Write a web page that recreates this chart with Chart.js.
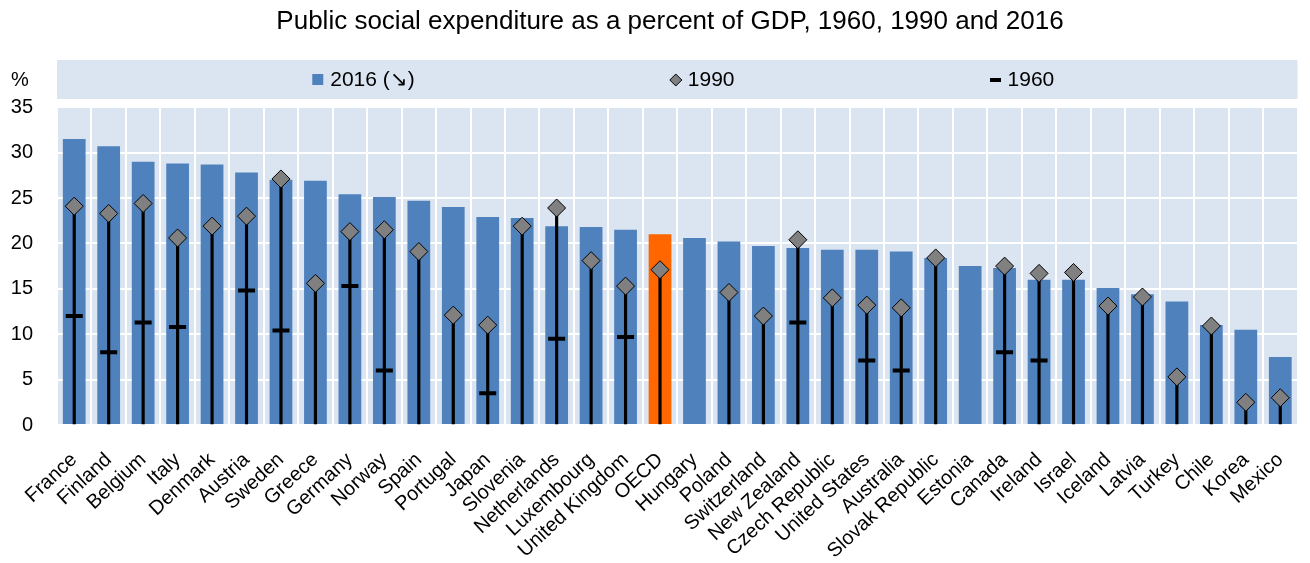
<!DOCTYPE html>
<html>
<head>
<meta charset="utf-8">
<title>Public social expenditure as a percent of GDP</title>
<script src="https://cdn.jsdelivr.net/npm/chart.js@4.4.0/dist/chart.umd.min.js"></script>
<style>
  html, body { margin: 0; padding: 0; background: #fff; }
  .chart-wrapper { position: relative; width: 1310px; height: 563px; }
</style>
</head>
<body>
<div class="chart-wrapper"><canvas id="socx"></canvas></div>
<script>
const countries = ['France', 'Finland', 'Belgium', 'Italy', 'Denmark', 'Austria', 'Sweden', 'Greece',
  'Germany', 'Norway', 'Spain', 'Portugal', 'Japan', 'Slovenia', 'Netherlands', 'Luxembourg',
  'United Kingdom', 'OECD', 'Hungary', 'Poland', 'Switzerland', 'New Zealand', 'Czech Republic',
  'United States', 'Australia', 'Slovak Republic', 'Estonia', 'Canada', 'Ireland', 'Israel',
  'Iceland', 'Latvia', 'Turkey', 'Chile', 'Korea', 'Mexico'];

// % of GDP
const spend2016 = [31.5, 30.7, 29.0, 28.8, 28.7, 27.8, 27.0, 26.9, 25.4, 25.1, 24.7, 24.0,
  22.9, 22.8, 21.9, 21.8, 21.5, 21.0, 20.6, 20.2, 19.7, 19.5, 19.3, 19.3, 19.1, 18.4, 17.5,
  17.3, 16.0, 16.0, 15.1, 14.4, 13.6, 11.0, 10.5, 7.5];
const spend1990 = [24.1, 23.3, 24.4, 20.6, 21.9, 23.0, 27.1, 15.6, 21.3, 21.5, 19.1, 12.1,
  11.0, 21.9, 23.9, 18.1, 15.3, 17.1, null, 14.6, 12.0, 20.4, 14.0, 13.2, 12.9, 18.4, null,
  17.5, 16.7, 16.8, 13.1, 14.1, 5.3, 10.9, 2.5, 3.0];
const spend1960 = [12.0, 8.0, 11.3, 10.8, null, 14.8, 10.4, null, 15.3, 6.0, null, null,
  3.5, null, 9.5, null, 9.7, null, null, null, null, 11.3, null, 7.1, 6.0, null, null,
  8.0, 7.1, null, null, null, null, null, null, null];

const yTicks = [0, 5, 10, 15, 20, 25, 30, 35];

const FONT = '"Liberation Sans", Arial, sans-serif';
const BLUE = '#4f81bd';
const ORANGE = '#ff6600';
const PANEL = '#dbe5f1';

const barColours = countries.map(c => c === 'OECD' ? ORANGE : BLUE);
// vertical stems run from zero up to the 1990 marker
const stems = spend1990.map(v => v == null ? null : [0, v]);

// shaded plot panel, legend strip above it and the "%" unit label
const panelPlugin = {
  id: 'panel',
  afterLayout(chart) {
    // title sits centred over the panel plus the unit column
    if (chart.titleBlock) chart.titleBlock.left = chart.chartArea.left - 21;
  },
  beforeDraw(chart) {
    const { ctx, chartArea: a } = chart;
    ctx.save();
    ctx.fillStyle = PANEL;
    ctx.fillRect(a.left, a.top, a.right - a.left, a.bottom - a.top);
    ctx.fillRect(a.left, 60, a.right - a.left, 39);
    ctx.restore();
  },
  afterDraw(chart) {
    const { ctx, chartArea: a } = chart;
    const cy = 80;
    ctx.save();
    ctx.font = '21px ' + FONT;
    ctx.textBaseline = 'middle';
    ctx.fillStyle = '#000';

    // bars first, then the 1990 and 1960 markers
    const labelled = chart.data.datasets.filter(d => d.label);
    const items = [labelled.pop(), ...labelled];
    const gap = 255, mark = 12, space = 6;
    const widths = items.map(d => mark + space + ctx.measureText(d.label).width);
    const total = widths.reduce((s, w) => s + w, 0) + gap * (items.length - 1);
    let x = (a.left + a.right) / 2 + 6 - total / 2;

    items.forEach((d, i) => {
      if (d.type === 'bar') {
        ctx.fillStyle = BLUE;
        ctx.fillRect(x, cy - 6, 11, 11);
      } else {
        ctx.fillStyle = d.pointBackgroundColor || '#000';
        ctx.strokeStyle = d.pointBorderColor;
        ctx.lineWidth = d.pointStyle === 'line' ? 4 : 1;
        Chart.helpers.drawPoint(ctx, { pointStyle: d.pointStyle, radius: d.pointStyle === 'line' ? 5.5 : 6, rotation: 0, borderWidth: ctx.lineWidth }, x + 6, cy);
      }
      ctx.fillStyle = '#000';
      ctx.fillText(d.label, x + mark + space, cy);
      x += widths[i] + gap;
    });

    ctx.font = '20px ' + FONT;
    ctx.textAlign = 'center';
    ctx.fillText('%', 20, 80);
    ctx.restore();
  }
};

new Chart(document.getElementById('socx'), {
  type: 'bar',
  data: {
    labels: countries,
    datasets: [
      {
        type: 'line',
        label: '1990',
        data: spend1990,
        showLine: false,
        pointStyle: 'rectRot',
        pointRadius: 9,
        pointHoverRadius: 9,
        pointBackgroundColor: '#808080',
        pointBorderColor: '#000',
        pointBorderWidth: 1,
        order: 1
      },
      {
        type: 'line',
        label: '1960',
        data: spend1960,
        showLine: false,
        pointStyle: 'line',
        pointRadius: 8.5,
        pointHoverRadius: 8.5,
        pointBorderColor: '#000',
        pointBorderWidth: 4,
        order: 2
      },
      {
        type: 'bar',
        label: '',
        data: stems,
        backgroundColor: '#000',
        barThickness: 2.5,
        grouped: false,
        order: 3
      },
      {
        type: 'bar',
        label: '2016 (\u2198)',
        data: spend2016,
        backgroundColor: barColours,
        barPercentage: 0.66,
        categoryPercentage: 1,
        grouped: false,
        order: 4
      }
    ]
  },
  options: {
    responsive: true,
    maintainAspectRatio: false,
    animation: false,
    events: [],
    layout: { padding: { left: 11, right: 6, top: 0, bottom: 0 } },
    plugins: {
      legend: { display: false },
      tooltip: { enabled: false },
      title: {
        display: true,
        text: 'Public social expenditure as a percent of GDP, 1960, 1990 and 2016',
        color: '#000',
        font: { family: FONT, size: 26, weight: 'normal' },
        padding: { top: 6, bottom: 70 }
      }
    },
    scales: {
      x: {
        grid: { color: '#fff', lineWidth: 2, drawTicks: false, offset: true },
        border: { display: false },
        afterFit: s => { s.height = 138; s.paddingLeft = 0; s.paddingRight = 0; },
        ticks: {
          color: '#000',
          font: { family: FONT, size: 20 },
          minRotation: 43,
          maxRotation: 43,
          autoSkip: false,
          padding: 23
        }
      },
      y: {
        min: 0,
        max: 35,
        grid: { color: '#fff', lineWidth: 2, drawTicks: false },
        border: { display: false },
        afterBuildTicks: s => { s.ticks = yTicks.map(v => ({ value: v })); },
        afterFit: s => { s.width = 46; },
        ticks: { color: '#000', font: { family: FONT, size: 20 }, padding: 24 }
      }
    }
  },
  plugins: [panelPlugin]
});
</script>
</body>
</html>
